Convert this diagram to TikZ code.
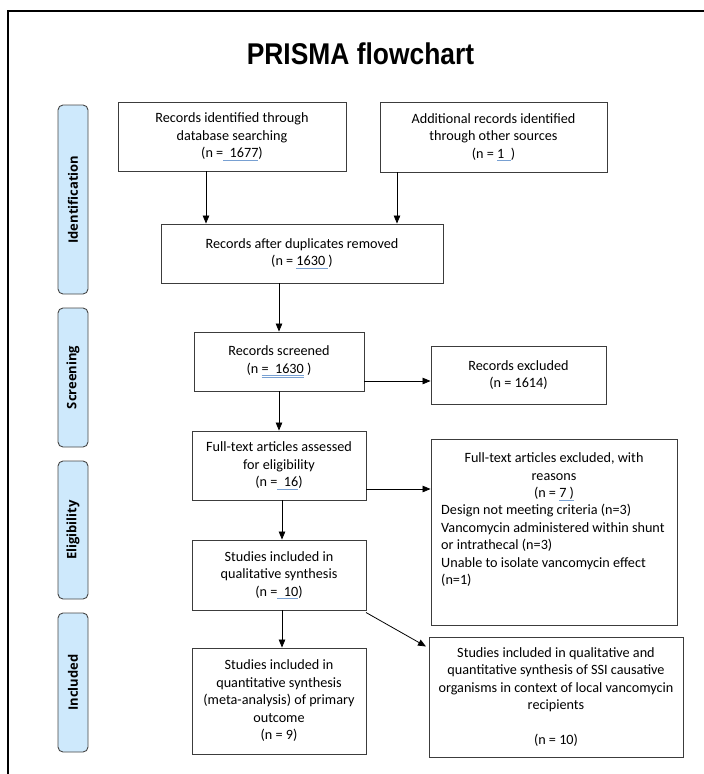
\documentclass[tikz,border=0pt]{standalone}
\usepackage{fontspec}
\setmainfont{Carlito}
\newfontfamily\titlefont{Liberation Sans}
\newfontfamily\sidefont{Open Sans}
\usetikzlibrary{arrows.meta}
\definecolor{sideblue}{RGB}{206,233,252}
\definecolor{sideedge}{RGB}{70,70,70}
\definecolor{boxedge}{RGB}{60,60,60}
\definecolor{ulblue}{RGB}{120,160,210}
\newlength\wulen
\newcommand\wul[1]{\settowidth{\wulen}{#1}\rlap{\color{ulblue}\rule[-2.6pt]{\wulen}{0.6pt}}#1}
\newcommand\wuld[1]{\settowidth{\wulen}{#1}\rlap{\color{ulblue}\rule[-2.2pt]{\wulen}{0.5pt}}\rlap{\color{ulblue}\rule[-4pt]{\wulen}{0.5pt}}#1}
\tikzset{
  box/.style={draw=boxedge, line width=0.9pt, inner sep=0pt, align=center,
    font={\fontsize{14.2}{17.5}\selectfont}},
  txt/.style={inner sep=0pt, font={\fontsize{14.2}{17.5}\selectfont}},
  side/.style={draw=sideedge, fill=sideblue, line width=0.9pt, rounded corners=5pt,
    rotate=90, minimum height=30pt, inner sep=0pt,
    font={\sidefont\fontsize{13}{15}\selectfont\bfseries}},
  arr/.style={-{Triangle[length=8pt,width=6.5pt]}, line width=0.8pt, black},
  ln/.style={line width=0.8pt, black}
}
\begin{document}
\begin{tikzpicture}[x=1pt,y=-1pt]
\useasboundingbox (0,0) rectangle (704,774);
% outer frame
\draw[line width=1.5pt] (8,774) -- (8,11) -- (704,11);
% title
\node[inner sep=0pt] (title) at (360.5,54) {\scalebox{0.88}[1]{\titlefont\bfseries\fontsize{30}{36}\selectfont PRISMA flowchart}};
% side labels
\node[side, minimum width=189pt] (ident) at (73,199.5) {Identification};
\node[side, minimum width=139pt] (scrn) at (73,377.5) {Screening};
\node[side, minimum width=138pt] (elig) at (73,530) {Eligibility};
\node[side, minimum width=139pt] (incl) at (73,682.5) {Included};
% boxes
\node[box, minimum width=228pt, minimum height=69pt] (db) at (232,136.5)
  {Records identified through\\database searching\\(n =\wul{\ \ 1677})};
\node[box, minimum width=227pt, minimum height=70pt] (other) at (493.5,137)
  {Additional records identified\\through other sources\\(n = \wul{1\ \ })};
\node[box, minimum width=282pt, minimum height=59pt] (dup) at (302,253.5)
  {Records after duplicates removed\\(n = \wul{1630\ })};
\node[box, minimum width=170pt, minimum height=59pt] (scr) at (279,361.5)
  {Records screened\\(n \wuld{=\ \ 1630} )};
\node[box, minimum width=175pt, minimum height=58pt] (rexc) at (518.5,375)
  {Records excluded\\(n = 1614)};
\node[box, minimum width=174pt, minimum height=69pt] (ft) at (279,465.5)
  {Full-text articles assessed\\for eligibility\\(n =\wul{\ \ 16})};
\node[box, minimum width=246pt, minimum height=186pt] (fexc) at (554,532) {};
\node[txt, align=center] (fexch) at (554,476.5)
  {Full-text articles excluded, with\\reasons\\(n = \wul{7 )}};
\node[txt, align=left, anchor=west] (fexcl) at (441,545.5)
  {Design not meeting criteria (n=3)\\Vancomycin administered within shunt\\or intrathecal (n=3)\\Unable to isolate vancomycin effect\\(n=1)};
\node[box, minimum width=174pt, minimum height=70pt] (qual) at (279,575)
  {Studies included in\\qualitative synthesis\\(n =\wul{\ \ 10})};
\node[box, minimum width=174pt, minimum height=106pt] (quant) at (279,701)
  {Studies included in\\quantitative synthesis\\(meta-analysis) of primary\\outcome\\(n = 9)};
\node[box, minimum width=254pt, minimum height=120pt] (ssi) at (556,697)
  {Studies included in qualitative and\\quantitative synthesis of SSI causative\\organisms in context of local vancomycin\\recipients\\\mbox{}\\(n = 10)};
% helper coordinates for arrow columns / rows
\coordinate (c1) at (206,0);
\coordinate (c2) at (397,0);
\coordinate (c3) at (279,0);
\coordinate (c4) at (282,0);
\coordinate (r1) at (0,381);
\coordinate (r2) at (0,489);
\coordinate (d1) at (366,612.5);
\coordinate (d2) at (426,646.5);
% connectors
\draw[arr] (c1 |- db.south) -- (c1 |- dup.north);
\draw[arr] (c2 |- other.south) -- (c2 |- dup.north);
\draw[arr] (c3 |- dup.south) -- (c3 |- scr.north);
\draw[arr] (c3 |- scr.south) -- (c3 |- ft.north);
\draw[arr] (scr.east |- r1) -- (rexc.west |- r1);
\draw[arr] (ft.east |- r2) -- (fexc.west |- r2);
\draw[arr] (c4 |- ft.south) -- (c4 |- qual.north);
\draw[arr] (c4 |- qual.south) -- (c4 |- quant.north);
\draw[arr] (d1) -- (d2);
\end{tikzpicture}
\end{document}
